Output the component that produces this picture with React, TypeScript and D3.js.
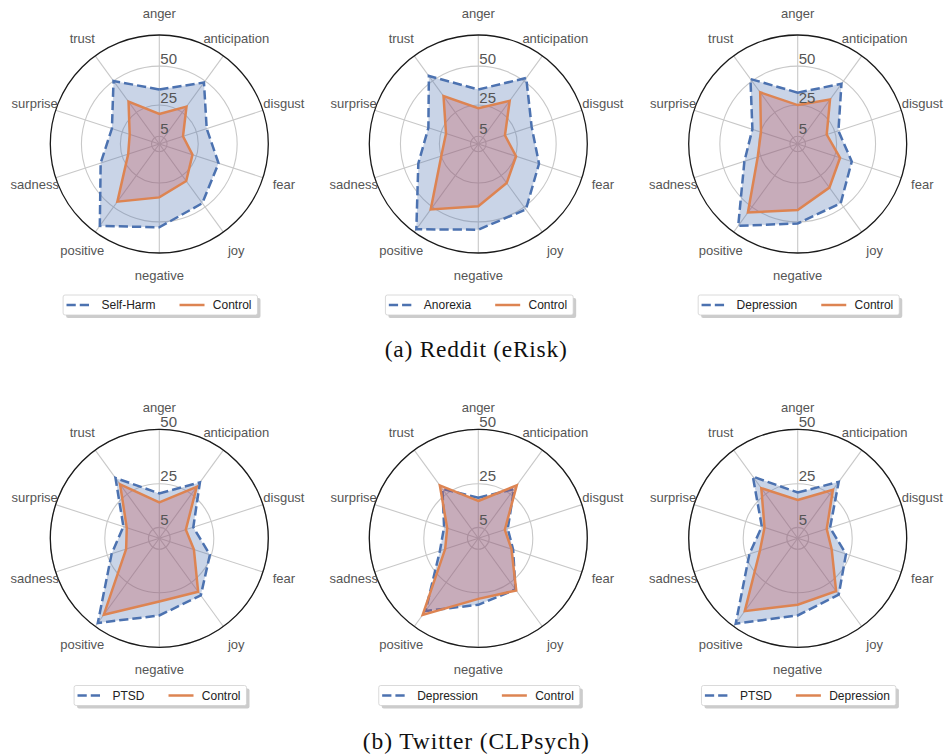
import React from "react";
import * as d3 from "d3";

const AXES = ["anger", "anticipation", "disgust", "fear", "joy", "negative", "positive", "sadness", "surprise", "trust"];

// Reddit (eRisk)
const selfHarm = [35, 48.8, 32, 40, 47, 53.5, 65, 39.6, 32, 50];
const redditControlA = [19.3, 29.7, 16, 22.4, 29.4, 34.3, 45.8, 21, 20, 33.6];
const anorexia = [35, 52.4, 36, 41, 52, 55, 67.7, 40.5, 33.7, 54];
const redditControlB = [23, 34.3, 18, 25.5, 31, 40, 52, 25, 21.8, 38];
const redditDepression = [33, 47.8, 27.5, 36.5, 47, 51, 65, 36, 30.6, 51.6];
const redditControlC = [25, 35.3, 19.6, 28.6, 34.6, 42.4, 54.4, 27, 24.8, 41];
// Twitter (CLPsych)
const twitterPtsdA = [20.6, 31.7, 16.4, 24.4, 32.4, 35.4, 48, 23, 17.3, 34.2];
const twitterControlA = [16.5, 29.2, 12.8, 16.7, 30.3, 29, 43.3, 16, 15.7, 30.6];
const twitterDepressionA = [18.6, 27.9, 14.2, 16.8, 29, 30.5, 41.2, 18.5, 16.5, 28];
const twitterControlB = [17.1, 30, 12.8, 16, 29.6, 27.8, 43.4, 16, 15, 30];
const twitterPtsdB = [21, 32, 15.6, 23.3, 32, 35.4, 48.4, 23.3, 17.3, 35];
const twitterDepressionB = [17.6, 27.5, 14, 16.4, 30, 30.5, 41.3, 18.2, 16, 28.4];

const R_TICKS = [5, 25, 50];
const TOP_MAX = 70;
const BOTTOM_MAX = 50;
const TITLES = ["(a) Reddit (eRisk)", "(b) Twitter (CLPsych)"];

const BLUE = "#4C72B0";
const ORANGE = "#DD8452";
const MAUVE = "#C44E52";

const R = 109;
const COL_X = [159.3, 478.3, 797.7];
const ROW_Y = [144, 538.3];
const LEGEND_Y = [305, 695.5];
const TITLE_Y = [357, 749];
const TITLE_W = [182, 226];

type Panel = { a: number[]; b: number[]; la: string; lb: string; max: number; col: number; row: number };

const panels: Panel[] = [
  { a: selfHarm, b: redditControlA, la: "Self-Harm", lb: "Control", max: TOP_MAX, col: 0, row: 0 },
  { a: anorexia, b: redditControlB, la: "Anorexia", lb: "Control", max: TOP_MAX, col: 1, row: 0 },
  { a: redditDepression, b: redditControlC, la: "Depression", lb: "Control", max: TOP_MAX, col: 2, row: 0 },
  { a: twitterPtsdA, b: twitterControlA, la: "PTSD", lb: "Control", max: BOTTOM_MAX, col: 0, row: 1 },
  { a: twitterDepressionA, b: twitterControlB, la: "Depression", lb: "Control", max: BOTTOM_MAX, col: 1, row: 1 },
  { a: twitterPtsdB, b: twitterDepressionB, la: "PTSD", lb: "Depression", max: BOTTOM_MAX, col: 2, row: 1 },
];

const SANS = "'Liberation Sans', Arial, sans-serif";

let ctx: CanvasRenderingContext2D | null = null;
function measure(text: string, font: string): number {
  if (!ctx) ctx = document.createElement("canvas").getContext("2d");
  if (!ctx) return text.length * 6.5;
  ctx.font = font;
  return ctx.measureText(text).width;
}

function Radar({ p }: { p: Panel }) {
  const cx = COL_X[p.col];
  const cy = ROW_Y[p.row];
  const r = d3.scaleLinear().domain([0, p.max]).range([0, R]);
  const n = AXES.length;
  const ang = (i: number) => (i * 2 * Math.PI) / n;
  const line = d3
    .lineRadial<number>()
    .angle((_, i) => ang(i))
    .radius((d) => r(d))
    .curve(d3.curveLinearClosed);

  // legend
  const lf = `12px ${SANS}`;
  const w1 = measure(p.la, lf);
  const w2 = measure(p.lb, lf);
  const lw = 38.4 + w1 + 24 + 25 + 8.3 + w2 + 6;
  const lx = cx + 1 - lw / 2;
  const ly = LEGEND_Y[p.row];
  const l2x = lx + 38.4 + w1 + 24;

  return (
    <g>
      <g transform={`translate(${cx},${cy})`}>
        {R_TICKS.map((t) => (
          <circle key={t} r={r(t)} fill="none" stroke="#c8c8c8" strokeWidth={1.1} />
        ))}
        {AXES.map((_, i) => (
          <line
            key={i}
            x1={0}
            y1={0}
            x2={R * Math.sin(ang(i))}
            y2={-R * Math.cos(ang(i))}
            stroke="#c8c8c8"
            strokeWidth={1.1}
          />
        ))}
        <circle r={R} fill="none" stroke="#1a1a1a" strokeWidth={1.3} />
        <path d={line(p.a) || ""} fill={BLUE} fillOpacity={0.3} stroke="none" />
        <path d={line(p.a) || ""} fill="none" stroke={BLUE} strokeWidth={2.5} strokeDasharray="9.25 4" strokeLinejoin="miter" />
        <path d={line(p.b) || ""} fill={MAUVE} fillOpacity={0.3} stroke="none" />
        <path d={line(p.b) || ""} fill="none" stroke={ORANGE} strokeWidth={2.5} strokeLinejoin="miter" />
        {R_TICKS.map((t) => (
          <text key={t} x={1} y={-r(t) - 2.5} fontFamily={SANS} fontSize={15} fill="#555">
            {t}
          </text>
        ))}
        {AXES.map((a, i) => (
          <text
            key={a}
            x={(R + 22) * Math.sin(ang(i))}
            y={-(R + 22) * Math.cos(ang(i))}
            dy="0.35em"
            textAnchor="middle"
            fontFamily={SANS}
            fontSize={13}
            fill="#555"
          >
            {a}
          </text>
        ))}
      </g>
      <g>
        <rect x={lx + 3} y={ly - 10 + 3} width={lw} height={20} rx={2} fill="#999" fillOpacity={0.5} />
        <rect x={lx} y={ly - 10} width={lw} height={20} rx={2} fill="#fff" stroke="#d0d0d0" strokeWidth={0.8} />
        <line x1={lx + 3.4} x2={lx + 28.4} y1={ly} y2={ly} stroke={BLUE} strokeWidth={2.5} strokeDasharray="9.25 4" />
        <text x={lx + 38.4} y={ly} dy="0.35em" fontFamily={SANS} fontSize={12} fill="#222">
          {p.la}
        </text>
        <line x1={l2x} x2={l2x + 25} y1={ly} y2={ly} stroke={ORANGE} strokeWidth={2.5} />
        <text x={l2x + 33.3} y={ly} dy="0.35em" fontFamily={SANS} fontSize={12} fill="#222">
          {p.lb}
        </text>
      </g>
    </g>
  );
}

export default function App() {
  return (
    <svg width={946} height={756} style={{ position: "absolute", left: 0, top: 0, background: "#fff" }}>
      <rect width={946} height={756} fill="#fff" />
      {panels.map((p, i) => (
        <Radar key={i} p={p} />
      ))}
      {TITLES.map((t, i) => (
        <text
          key={t}
          x={475.8}
          y={TITLE_Y[i]}
          textAnchor="middle"
          fontFamily="'Liberation Serif', 'Times New Roman', serif"
          fontSize={23.5}
          textLength={TITLE_W[i]}
          lengthAdjust="spacing"
          fill="#111"
        >
          {t}
        </text>
      ))}
    </svg>
  );
}
